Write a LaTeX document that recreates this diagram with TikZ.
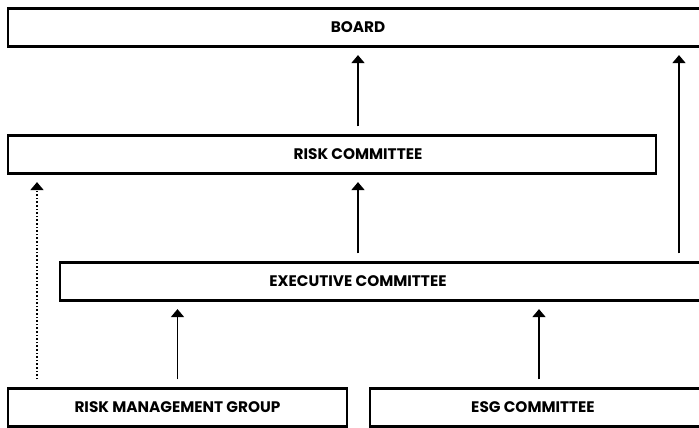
\documentclass[tikz,border=0pt]{standalone}
\usepackage{fontspec}
\setmainfont{Poppins}
\usetikzlibrary{arrows.meta}
\begin{document}
\begin{tikzpicture}[x=1pt,y=-1pt,
    unit/.style={draw,line width=2.2pt,minimum height=38pt,inner sep=0pt},
    lbl/.style={font=\fontsize{15.3}{17}\selectfont\bfseries},
    up/.style={-{Triangle[width=13pt,length=8pt]},line width=1.6pt,
      shorten <=8pt,shorten >=7.5pt}]
  \useasboundingbox (0,0) rectangle (699,428);
  \node[unit,minimum width=700pt,label={[lbl,name=boardt]center:BOARD}]
    (board) at (358,27.5) {};
  \node[unit,minimum width=648pt,label={[lbl,name=riskt,xshift=26pt]center:RISK COMMITTEE}]
    (risk) at (332,154.5) {};
  \node[unit,minimum width=660pt,label={[lbl,name=exect,xshift=-32pt]center:EXECUTIVE COMMITTEE}]
    (exec) at (390,281.5) {};
  \node[unit,minimum width=339pt,label={[lbl,name=rmgt]center:RISK MANAGEMENT GROUP}]
    (rmg) at (177.5,407.5) {};
  \node[unit,minimum width=338pt,label={[lbl,name=esgt,xshift=-6pt]center:ESG COMMITTEE}]
    (esg) at (539,407.5) {};
  \coordinate (side) at (679,0);
  \coordinate (dots) at (37,0);
  \begin{scope}[up]
    \draw (riskt |- risk.north) -- (riskt |- board.south);
    \draw (side |- exec.north) -- (side |- board.south);
    \draw (exect |- exec.north) -- (exect |- risk.south);
    \draw (rmg.north) -- (rmg.north |- exec.south);
    \draw (esg.north) -- (esg.north |- exec.south);
    \draw[dotted] (dots |- rmg.north) -- (dots |- risk.south);
  \end{scope}
\end{tikzpicture}
\end{document}
